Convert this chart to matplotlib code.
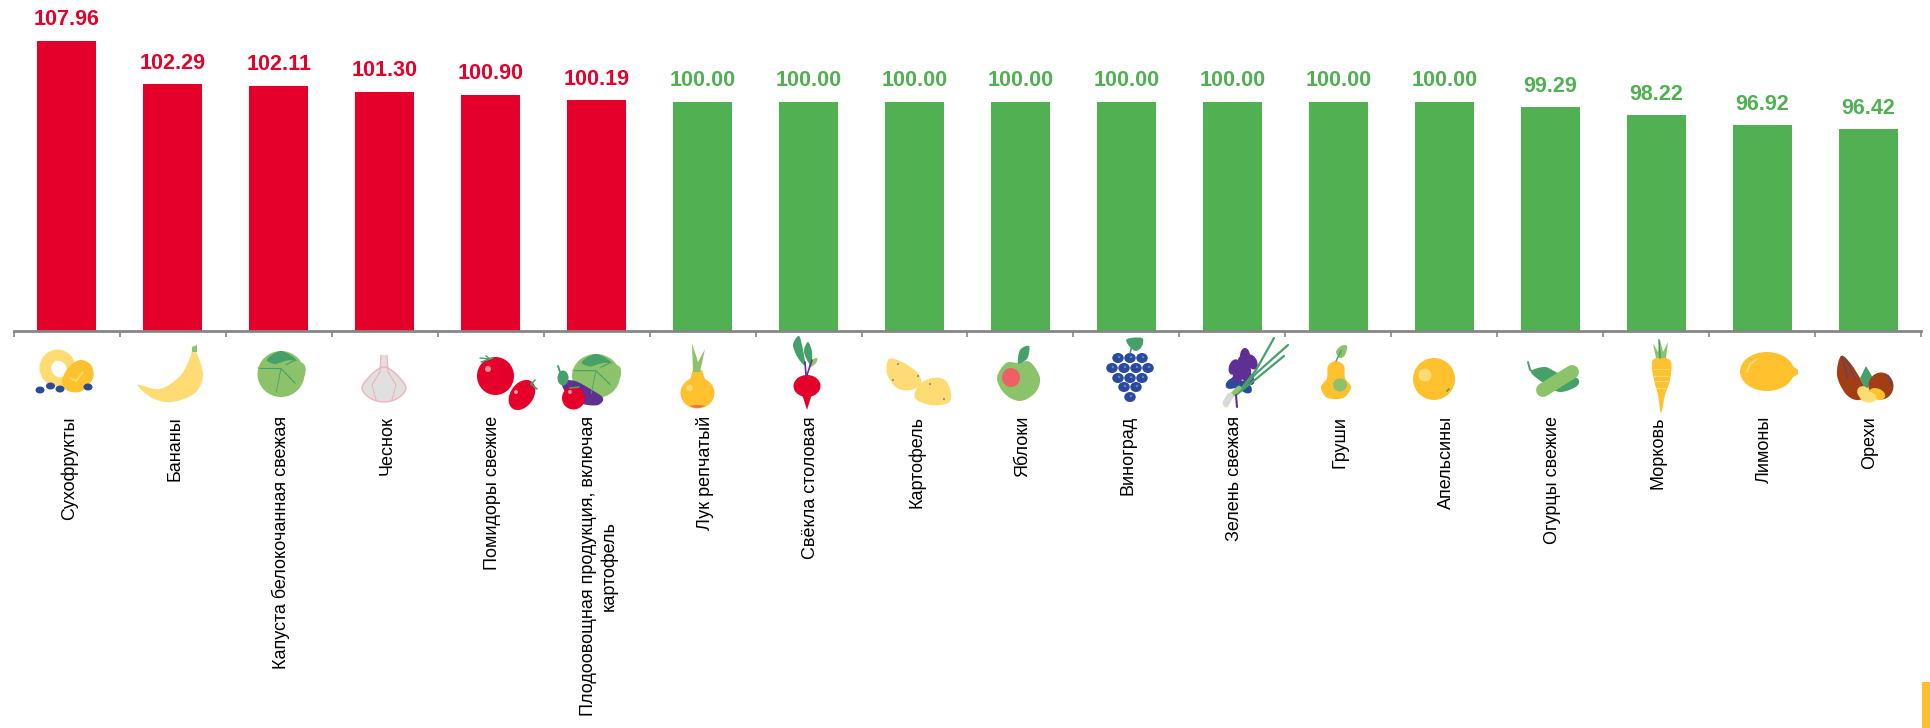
import numpy as np
from matplotlib import pyplot as plt
from matplotlib.path import Path
from matplotlib.patches import Ellipse, PathPatch, Polygon, Rectangle

plt.rcParams['font.family'] = ['Liberation Sans', 'DejaVu Sans']

categories = ['Сухофрукты', 'Бананы', 'Капуста белокочанная свежая', 'Чеснок',
              'Помидоры свежие', 'Плодоовощная продукция, включая\nкартофель',
              'Лук репчатый', 'Свёкла столовая', 'Картофель', 'Яблоки',
              'Виноград', 'Зелень свежая', 'Груши', 'Апельсины',
              'Огурцы свежие', 'Морковь', 'Лимоны', 'Орехи']
values = [107.96, 102.29, 102.11, 101.30, 100.90, 100.19, 100.00, 100.00, 100.00,
          100.00, 100.00, 100.00, 100.00, 100.00, 99.29, 98.22, 96.92, 96.42]

RED = '#E4002B'
GREEN = '#50B052'
YELLOW = '#FFC12D'
PALE = '#FFDC73'
LGREEN = '#8CC36A'
DGREEN = '#46A06A'
BLUE = '#2A4B9B'
PURPLE = '#5F2F93'
BROWN = '#A23E16'
GREY = '#868686'

W, H = 1931, 728
fig = plt.figure(figsize=(W / 100, H / 100), dpi=100)
ax = fig.add_axes([14 / W, (H - 331) / H, (1921 - 14) / W, 331 / H])

x = np.arange(len(values))
colors = [RED if v > 100 else GREEN for v in values]
ax.bar(x, values, width=0.557, color=colors)
ax.set_xlim(-0.5, len(values) - 0.5)
ax.set_ylim(70, 113.3)

for i, v in enumerate(values):
    ax.annotate('{:.2f}'.format(v), (i, v), xytext=(0, 15), textcoords='offset points',
                ha='center', va='center', fontsize=15.5, fontweight='bold', color=colors[i])
    ax.annotate(categories[i], (i, 0), xycoords=('data', 'axes fraction'),
                xytext=(1.5, -(416 - 331) * 0.72), textcoords='offset points',
                ha='center', va='top', rotation=90, multialignment='center',
                fontsize=13, color='black')

for s in ['top', 'left', 'right']:
    ax.spines[s].set_visible(False)
ax.spines['bottom'].set_color(GREY)
ax.spines['bottom'].set_linewidth(2)
ax.set_yticks([])
ax.set_xticks(np.arange(-0.5, len(values), 1))
ax.set_xticklabels([])
ax.tick_params(axis='x', length=4, width=1.2, color=GREY)

# pixel layer for the pictures under the bars
ov = fig.add_axes([0, 0, 1, 1], zorder=5)
ov.set_xlim(0, W)
ov.set_ylim(H, 0)
ov.axis('off')


def ell(cx, cy, w, h, color, angle=0, ec='none', lw=0):
    ov.add_patch(Ellipse((cx, cy), w, h, angle=angle, fc=color, ec=ec, lw=lw))


def poly(pts, color):
    ov.add_patch(Polygon(pts, closed=True, fc=color, ec='none'))


def blob(pts, color, ec='none', lw=0):
    # closed smooth curve through the points
    p = np.array(pts, dtype=float)
    n = len(p)
    verts = [p[0]]
    codes = [Path.MOVETO]
    for i in range(n):
        p0, p1, p2, p3 = p[i - 1], p[i], p[(i + 1) % n], p[(i + 2) % n]
        verts += [p1 + (p2 - p0) / 6, p2 - (p3 - p1) / 6, p2]
        codes += [Path.CURVE4] * 3
    ov.add_patch(PathPatch(Path(verts, codes), fc=color, ec=ec, lw=lw))


def line(pts, color, lw=1.0):
    p = np.array(pts)
    ov.plot(p[:, 0], p[:, 1], color=color, lw=lw, solid_capstyle='round')


def cabbage(cx, cy, w, h):
    ell(cx, cy, w, h, LGREEN)
    blob([(cx - w * .3, cy - h * .3), (cx, cy - h * .5), (cx + w * .33, cy - h * .3),
          (cx + w * .2, cy - h * .2), (cx, cy - h * .18)], DGREEN)
    blob([(cx - w * .5, cy - h * .13), (cx - w * .1, cy - h * .22), (cx + w * .2, cy - h * .3),
          (cx + w * .5, cy - h * .2), (cx + w * .45, cy + h * .1), (cx, cy + h * .05)], LGREEN)
    line([(cx - w * .45, cy - h * .12), (cx, cy - h * .12), (cx + w * .3, cy + h * .2)], DGREEN, .8)
    line([(cx, cy - h * .12), (cx - w * .1, cy + h * .4)], DGREEN, .6)
    line([(cx + w * .1, cy - h * .2), (cx + w * .3, cy - h * .3)], DGREEN, .8)


# dried fruit
ell(57.5, 368, 36, 37, PALE)
ell(59, 369, 15, 17, 'white', angle=-30)
blob([(62, 382), (68, 368), (80, 360), (91, 365), (93, 378), (82, 391), (68, 391)], YELLOW)
line([(70, 378), (76, 381), (83, 372)], PALE, 1.2)
for cx, cy in [(40, 390), (50.5, 386), (60, 389), (88, 387)]:
    ell(cx, cy, 9, 7, BLUE)

# banana
blob([(138, 385), (160, 389), (180, 376), (190, 358), (192, 350), (197, 354), (203, 375),
      (195, 393), (172, 402), (152, 398)], PALE)
poly([(192, 352), (192, 347), (197, 345), (197, 352)], LGREEN)

# white cabbage
cabbage(281, 374, 47, 46)

# garlic
poly([(381, 355), (387, 355), (388, 372), (380, 372)], '#E0E0E0')
line([(381, 355), (380, 372)], '#F4B0B4', .8)
line([(387, 355), (388, 372)], '#F4B0B4', .8)
blob([(380, 368), (388, 368), (398, 376), (406, 388), (398, 398), (384, 402), (370, 398),
      (362, 388), (370, 376)], '#E0E0E0', ec='#F4B0B4', lw=1)
line([(380, 372), (372, 385), (376, 400)], '#F4B0B4', .8)
line([(388, 372), (396, 385), (392, 400)], '#F4B0B4', .8)

# tomatoes
ell(495.5, 376, 37, 38, RED)
ell(522, 395, 23, 33, RED, angle=35)
ell(488, 369, 6, 6, '#F58C9A')
ell(516, 392, 4, 4, '#F58C9A')
for dx, dy in [(-10, -1), (-4, -3), (3, -1), (-9, 3)]:
    line([(490, 359), (490 + dx, 359 + dy)], DGREEN, 1.0)
line([(531, 384), (535, 380)], DGREEN, 1.2)
line([(531, 384), (537, 389)], DGREEN, 1.2)

# mix of vegetables
cabbage(596, 376, 48, 44)
blob([(562, 382), (575, 381), (592, 390), (603, 398), (598, 405), (583, 404), (568, 396)], PURPLE)
ell(563, 378, 11, 15, DGREEN)
line([(558, 366), (560, 372)], DGREEN, 1.4)
ell(573.5, 398, 23, 23, RED)
ell(570, 392, 4, 4, '#F58C9A')
line([(570, 388), (579, 387)], DGREEN, 1.2)

# onion
ell(697.5, 393, 34, 31, YELLOW)
poly([(693, 370), (702, 370), (706, 382), (689, 382)], YELLOW)
ell(689.5, 388, 7, 6, PALE)
blob([(690, 406), (697, 408), (705, 406), (697, 405)], '#F0705A')
poly([(693, 372), (692, 343), (698, 362), (705, 349), (700, 372)], LGREEN)

# beet
ell(807, 386, 27, 22, RED)
poly([(802, 394), (812, 394), (807, 410)], RED)
line([(806, 375), (805, 362)], PURPLE, 1.2)
line([(807, 375), (812, 360)], PURPLE, 1.2)
blob([(799, 336), (803, 350), (805, 365), (798, 358), (793, 345)], DGREEN)
blob([(808, 342), (812, 352), (811, 365), (806, 358), (804, 350)], DGREEN)
blob([(817, 358), (816, 363), (809, 368), (811, 361)], LGREEN)

# potatoes
blob([(889, 359), (902, 362), (917, 372), (921, 383), (911, 390), (897, 388), (887, 374)], PALE)
blob([(932, 378), (945, 380), (951, 393), (948, 403), (930, 405), (915, 398), (919, 385)], PALE)
for cx, cy in [(898, 364), (893, 380), (918, 376), (930, 384), (944, 399)]:
    ell(cx, cy, 2, 2, GREY)

# apple
blob([(1018, 363), (1030, 362), (1040, 378), (1035, 393), (1020, 401), (1005, 394), (997, 378), (1006, 363)], LGREEN)
ell(1011, 377.5, 18, 19, '#EE6065')
blob([(1018, 363), (1020, 350), (1029, 346), (1028, 357), (1023, 362)], DGREEN)

# grapes
line([(1130, 353), (1132, 346)], DGREEN, 1.2)
blob([(1127, 339), (1142, 338), (1142, 346), (1136, 351), (1129, 346)], DGREEN)
for cx, cy in [(1118, 358), (1130, 358), (1142, 358), (1112, 368), (1124, 368), (1136, 368),
               (1148, 368), (1118, 378), (1130, 378), (1142, 378), (1124, 387), (1136, 387),
               (1130, 397)]:
    ell(cx, cy, 11.5, 10, BLUE)
    ell(cx + 1, cy - 1, 2.5, 2.5, '#5F86C8')

# fresh herbs
for tip, w0 in [((1274, 338), DGREEN), ((1288, 345), DGREEN), ((1284, 356), DGREEN)]:
    line([(1237, 394), (1256, (tip[1] + 394) / 2 + 4), tip], w0, 1.6)
for cx, cy, a, c in [(1234, 367, 20, PURPLE), (1243, 372, -10, BLUE), (1242, 363, 10, PURPLE),
                     (1252, 362, -25, PURPLE), (1236, 381, 30, PURPLE), (1248, 378, -40, PURPLE),
                     (1233, 383, 60, BLUE), (1245, 387, -50, BLUE), (1245, 356, 0, PURPLE),
                     (1238, 375, 15, PURPLE), (1246, 370, -15, PURPLE)]:
    ell(cx, cy, 10, 16, c, angle=a)
line([(1239, 388), (1230, 397)], LGREEN, 3.5)
line([(1230, 396), (1226, 403)], '#D8D8D8', 5)
ell(1226, 405, 5, 5, PALE)
line([(1236, 395), (1237, 407)], PURPLE, 1.5)

# pear
blob([(1336, 361), (1344, 366), (1345, 378), (1351, 387), (1345, 397), (1336, 399), (1326, 397),
      (1321, 387), (1327, 378), (1328, 366)], YELLOW)
ell(1340, 385, 14, 13, LGREEN)
line([(1336, 361), (1341, 351)], DGREEN, 1)
blob([(1336, 352), (1341, 346), (1347, 346), (1345, 355), (1340, 358)], LGREEN)

# orange
ell(1434, 379, 42, 42, YELLOW)
ell(1425, 375, 13, 13, PALE)
line([(1447, 391), (1449, 389)], DGREEN, 1.2)

# cucumber with pepper
blob([(1531, 372), (1545, 367), (1558, 373), (1577, 378), (1577, 386), (1560, 392), (1545, 384)], DGREEN)
line([(1528, 362), (1530, 370), (1534, 372)], DGREEN, 1.4)
line([(1543, 390), (1572, 372)], LGREEN, 10)

# carrot
blob([(1652, 362), (1661, 357), (1671, 362), (1670, 380), (1665, 395), (1661, 413), (1658, 395), (1654, 380)], YELLOW)
for yy, half in [(369, 7), (376, 7), (381, 7), (388, 5)]:
    line([(1661 - half, yy), (1661 + half, yy)], PALE, .8)
poly([(1656, 358), (1653, 343), (1658, 352), (1660, 340), (1663, 352), (1668, 342), (1666, 358)], LGREEN)
line([(1660, 358), (1659, 340)], DGREEN, 1.2)

# lemon
ell(1767, 371.5, 54, 39, YELLOW)
poly([(1790, 364), (1798, 370), (1798, 374), (1790, 379)], YELLOW)
line([(1747, 372), (1750, 364), (1757, 359)], PALE, 1.4)

# nuts
blob([(1841, 356), (1851, 364), (1862, 382), (1866, 396), (1856, 400), (1845, 393), (1837, 375)], BROWN)
poly([(1866, 366), (1873, 378), (1866, 392), (1860, 378)], DGREEN)
ell(1881, 386, 25, 27, BROWN)
line([(1842, 358), (1848, 378)], BLUE, .6)
line([(1845, 358), (1855, 378)], BLUE, .6)
line([(1888, 375), (1892, 385)], BLUE, .6)
ell(1864, 393, 15, 12, PALE, angle=45)
ell(1877, 394, 17, 11, YELLOW, angle=20)
ell(1868, 397, 17, 11, PALE, angle=10)

# yellow strip in the corner
ov.add_patch(Rectangle((1922, 682), 9, 46, fc=YELLOW, ec='none'))

plt.savefig('out.png', dpi=100)
